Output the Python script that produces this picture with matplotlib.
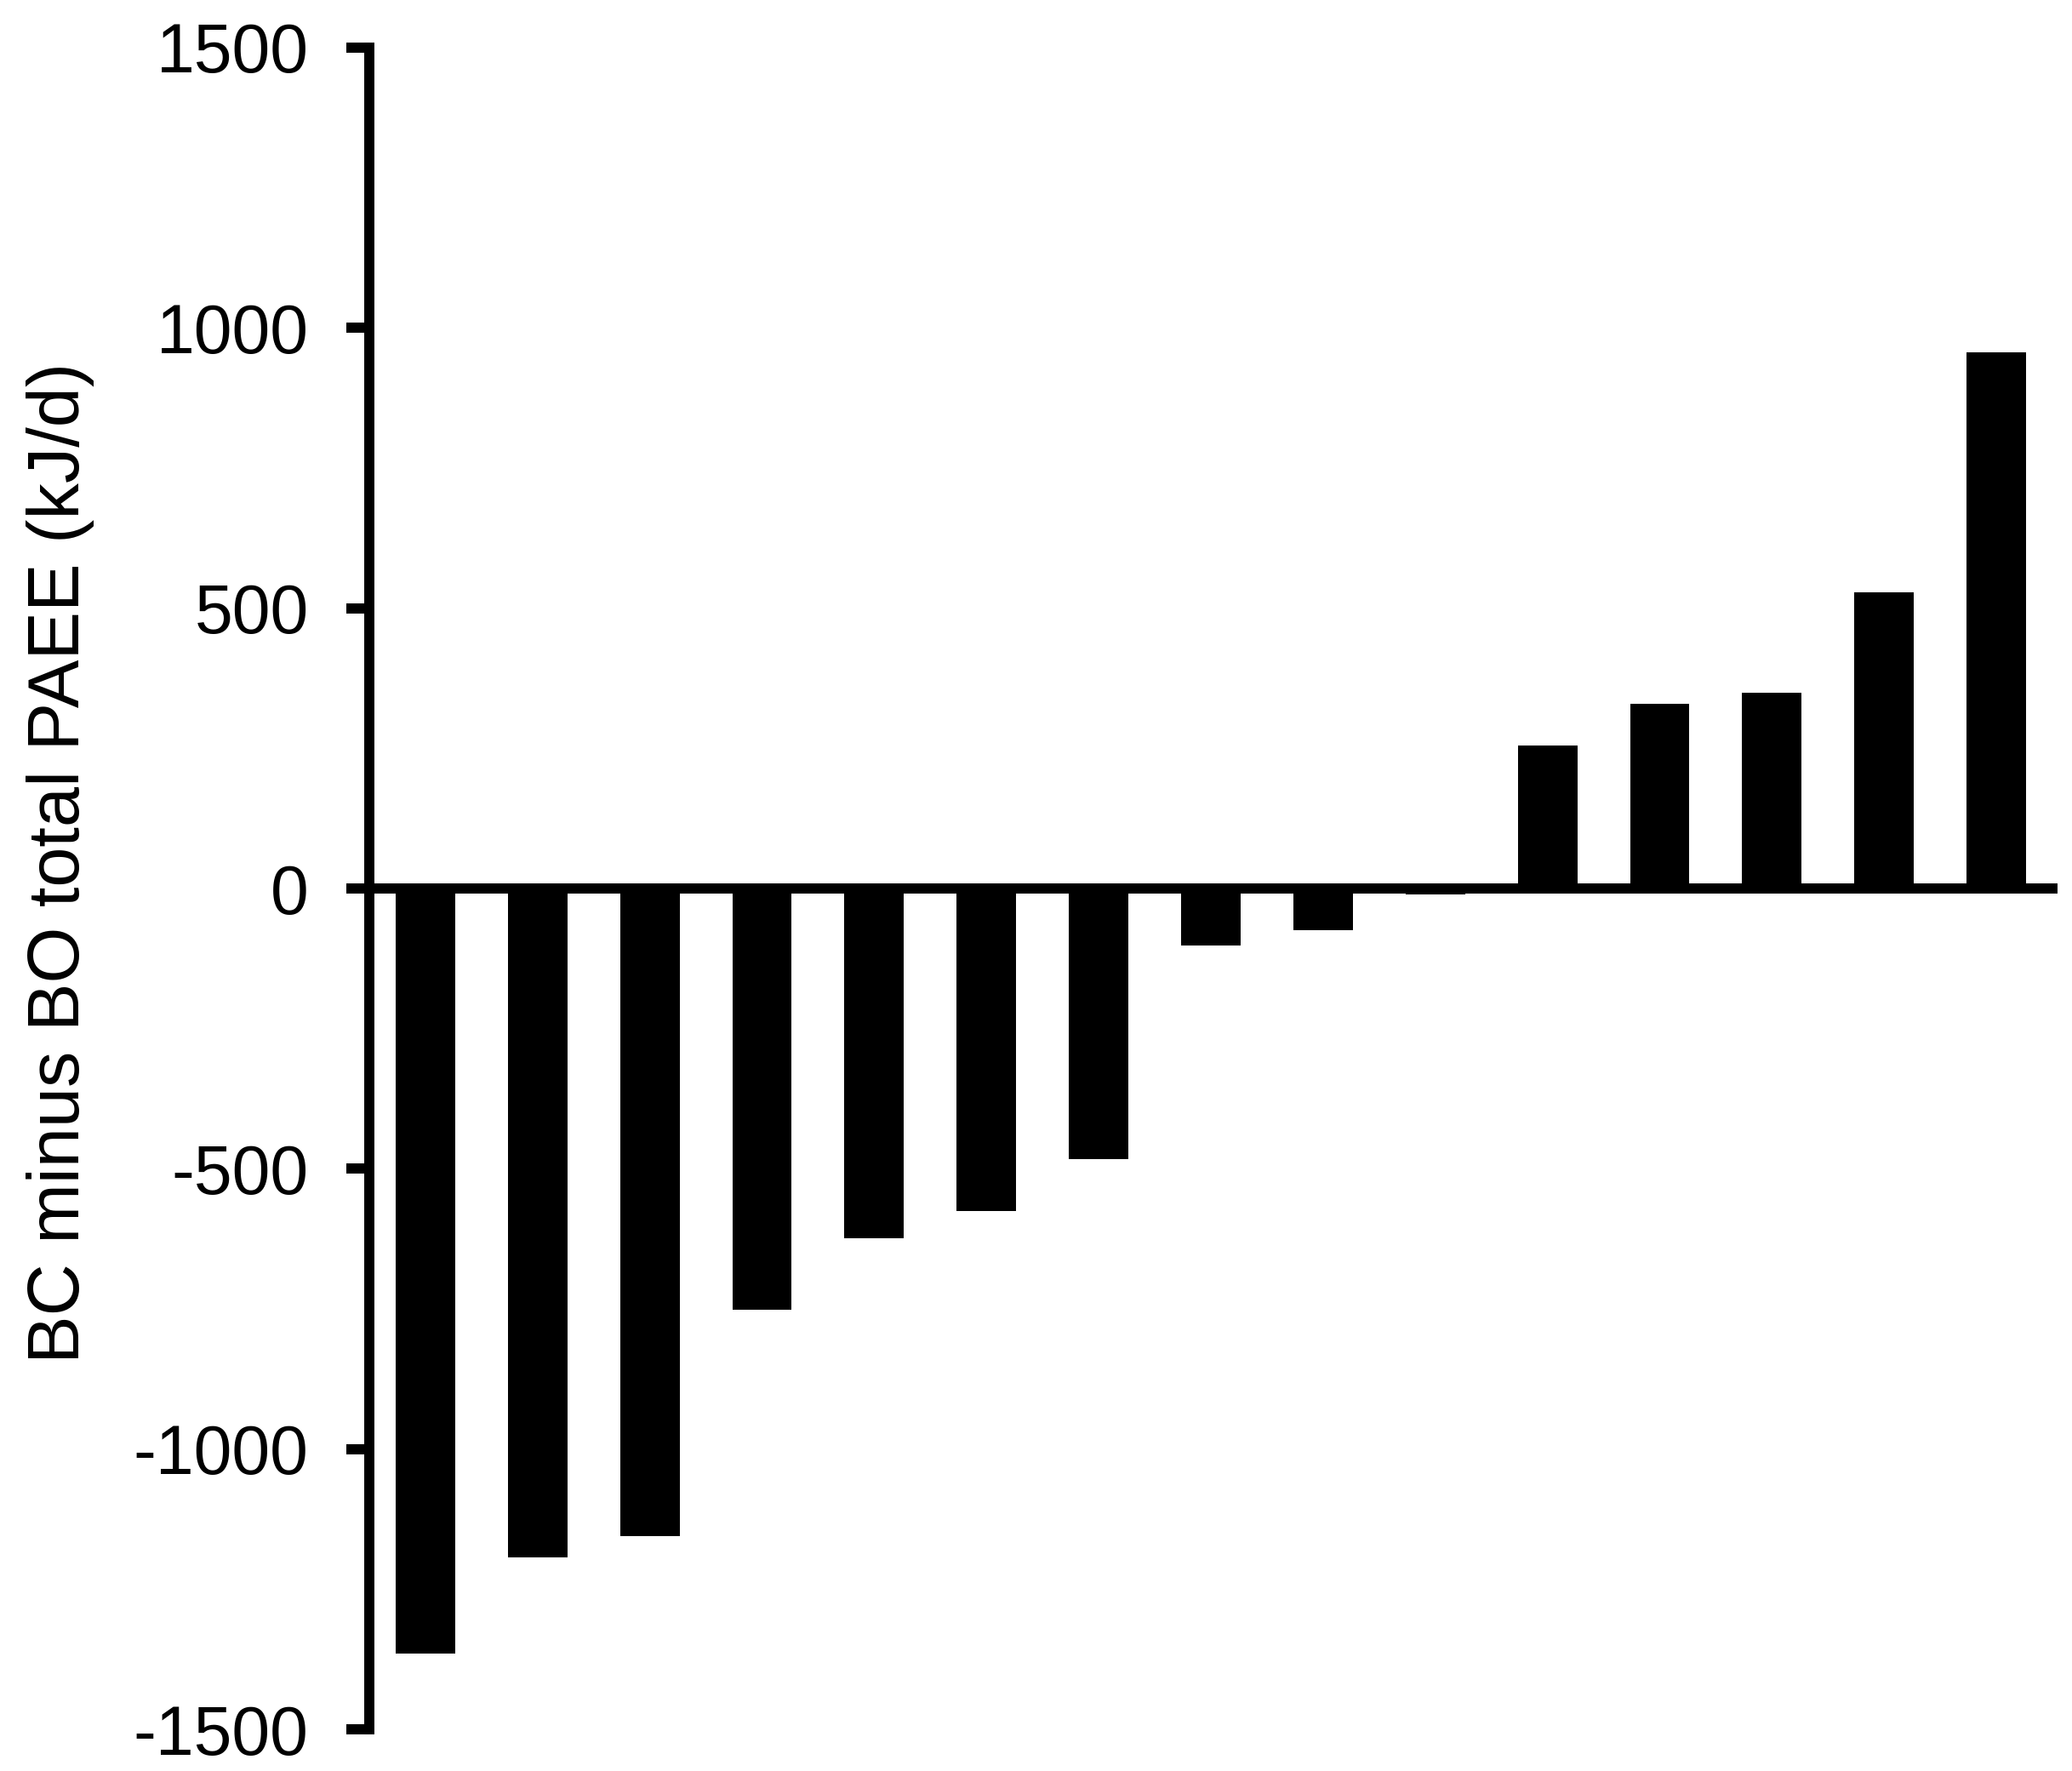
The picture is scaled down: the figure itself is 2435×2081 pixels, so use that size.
import matplotlib
matplotlib.use('Agg')
matplotlib.rcParams.update({'font.family': ['Liberation Sans', 'DejaVu Sans']})

from matplotlib import pyplot as plt
import numpy as np

# one bar per participant, sorted by difference
participants = list(range(1, 16))
paee_diff = [-1365, -1193, -1155, -752, -624, -576, -483, -102, -75, -10,
             255, 330, 349, 528, 957]
yticks = [-1500, -1000, -500, 0, 500, 1000, 1500]
ylabel = 'BC minus BO total PAEE (kJ/d)'

lw = 8.6

fig = plt.figure(figsize=(24.35, 20.81), dpi=100)
ax = fig.add_axes([0.1782, 0.0235, 0.8124, 0.9496])

x = np.arange(len(participants))
ax.bar(x, paee_diff, width=0.53, color='black', edgecolor='none')

ax.set_xlim(-0.5, len(participants) - 0.5)
ax.set_ylim(-1500, 1500)
ax.set_yticks(yticks)
ax.set_yticklabels([str(t) for t in yticks])
ax.set_xticks([])

ax.spines['top'].set_visible(False)
ax.spines['right'].set_visible(False)
ax.spines['bottom'].set_position(('data', 0))
ax.spines['left'].set_linewidth(lw)
ax.spines['bottom'].set_linewidth(lw)
ax.spines['left'].set_capstyle('projecting')

ax.tick_params(axis='y', direction='out', length=19.4, width=lw,
               pad=32, labelsize=58, colors='black')

ax.set_ylabel(ylabel, fontsize=61)
ax.yaxis.set_label_coords(-0.1633, 0.515)

plt.savefig('out.png', dpi=100)
